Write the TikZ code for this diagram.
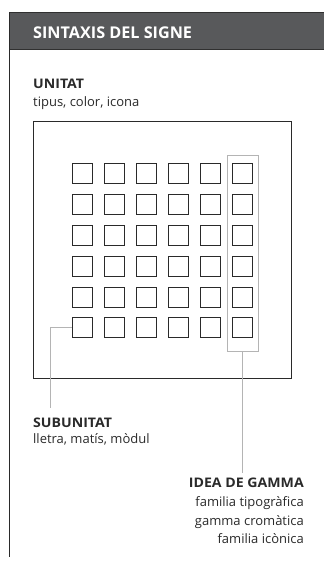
\documentclass[tikz,border=0pt]{standalone}
\usepackage{fontspec}
\setmainfont{Open Sans}
\newfontfamily\titlefont[FakeStretch=1.07]{Open Sans Bold}
\definecolor{hdr}{HTML}{58595B}
\definecolor{hdredge}{HTML}{303030}
\definecolor{ink}{HTML}{2A2A2A}
\definecolor{lgray}{HTML}{B4B4B4}
\tikzset{
  cell/.style={draw=ink, line width=0.9pt, minimum width=20pt, minimum height=20pt, inner sep=0pt},
  title/.style={font=\fontsize{13.2}{15}\titlefont, inner sep=0pt, text=ink},
  sub/.style={font=\fontsize{13}{15}\selectfont, inner sep=0pt, text=ink},
  lead/.style={draw=lgray, line width=1pt},
}
\begin{document}
\begin{tikzpicture}[x=1pt,y=-1pt]
\useasboundingbox (0,0) rectangle (324,565);
% header
\fill[hdr] (9,12) rectangle (324,50);
\draw[hdredge, line width=0.8pt] (9,12.4) -- (324,12.4);
\draw[hdredge, line width=0.8pt] (9,49.6) -- (324,49.6);
\draw[ink, line width=1.2pt] (9.6,12) -- (9.6,557);
\node[anchor=base west, inner sep=0pt, text=white, font=\fontsize{16.2}{18}\selectfont\bfseries] (head) at (33,38) {SINTAXIS DEL SIGNE};
% unitat
\node[title, anchor=base west] (unitat) at (33,88) {UNITAT};
\node[sub, anchor=base west] (unitatsub) at (33,106) {tipus, color, icona};
\node[draw=ink, line width=1pt, minimum width=258pt, minimum height=257pt, inner sep=0pt] (unit) at (162,249.5) {};
% grid
\foreach \r/\y in {1/173,2/204,3/235.5,4/266,5/297,6/327}{
  \foreach \c/\x in {1/82,2/114,3/146,4/178,5/210,6/242}{
    \node[cell] (s-\r-\c) at (\x,\y) {};
  }
}
% gamma column frame
\node[draw=lgray, line width=1pt, minimum width=31pt, minimum height=196pt, inner sep=0pt] (gamma) at (242.5,253) {};
% connectors
\coordinate (subend) at (50,408);
\coordinate (gamend) at (242.5,473);
\draw[lead] (s-6-1.west) -| (subend);
\draw[lead] (gamma.south) -- (gamend);
% subunitat
\node[title, anchor=base west] (subunitat) at (33,427) {SUBUNITAT};
\node[sub, anchor=base west] (subsub) at (33,443.5) {lletra, matís, mòdul};
% idea de gamma
\node[title, anchor=base east] (idea) at (304,487) {IDEA DE GAMMA};
\node[sub, anchor=base east] (g1) at (304,506.5) {familia tipogràfica};
\node[sub, anchor=base east] (g2) at (304,525) {gamma cromàtica};
\node[sub, anchor=base east] (g3) at (304,543.5) {familia icònica};
\end{tikzpicture}
\end{document}
